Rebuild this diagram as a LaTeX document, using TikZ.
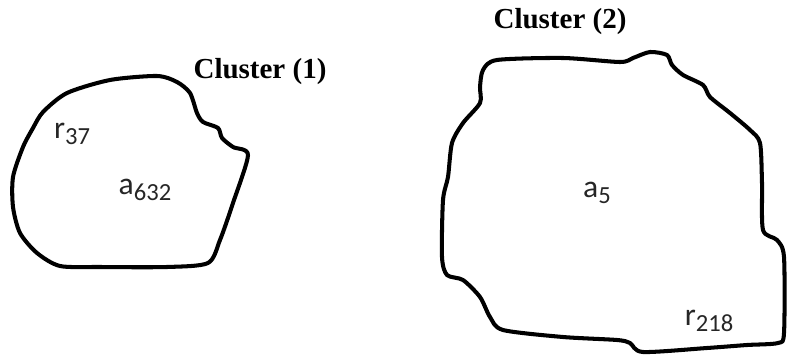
\documentclass[tikz,border=0pt]{standalone}
\usepackage{fontspec}
\setmainfont{Liberation Serif}
\newfontfamily\labelfont{Carlito}
\usetikzlibrary{positioning}
\newcommand{\elem}[2]{{\labelfont\fontsize{18}{18}\selectfont #1\raisebox{-0.4ex}{\fontsize{14}{14}\selectfont #2}}}

\begin{document}
\begin{tikzpicture}[x=0.02cm, y=-0.02cm,
        outline/.style={line width=2.3pt, line join=round, smooth cycle, tension=0.45},
        title/.style={font=\bfseries\fontsize{16.5}{16.5}\selectfont, inner sep=0pt},
        member/.style={inner sep=0pt, text=black!85}]
        \useasboundingbox (0,0) rectangle (787,358);
        % cluster 1
        \draw[outline] plot coordinates {(43,112) (67,93) (110,80) (157,76) (177,82) (190,93)
            (197,113) (203,122) (218,128) (222,138) (233,147) (248,155) (233,203) (220,240)
            (208,263) (167,267) (100,267) (60,266) (37,253) (20,233) (13,207) (13,177)
            (23,147) (33,128)};
        \node[title] (C1) at (260,72) {Cluster (1)};
        \node[member] (r37) at (72,134) {\elem{r}{37}};
        \node[member] (a632) at (145,190) {\elem{a}{632}};
        % cluster 2
        \draw[outline] plot coordinates {(483,70) (497,60) (563,58) (620,62) (633,58) (650,52)
            (667,55) (672,65) (683,75) (703,85) (710,97) (730,113) (750,130) (760,143)
            (762,183) (763,230) (777,240) (784,257) (784,333) (778,343) (747,345) (707,348)
            (643,352) (630,343) (617,340) (563,337) (503,330) (490,317) (480,297) (463,280)
            (447,275) (442,257) (443,200) (448,177) (452,143) (463,123) (480,103) (480,87)};
        \node[title] (C2) at (560,22) {Cluster (2)};
        \node[member] (a5) at (597,193) {\elem{a}{5}};
        \node[member] (r218) at (709,321) {\elem{r}{218}};
\end{tikzpicture}
\end{document}
